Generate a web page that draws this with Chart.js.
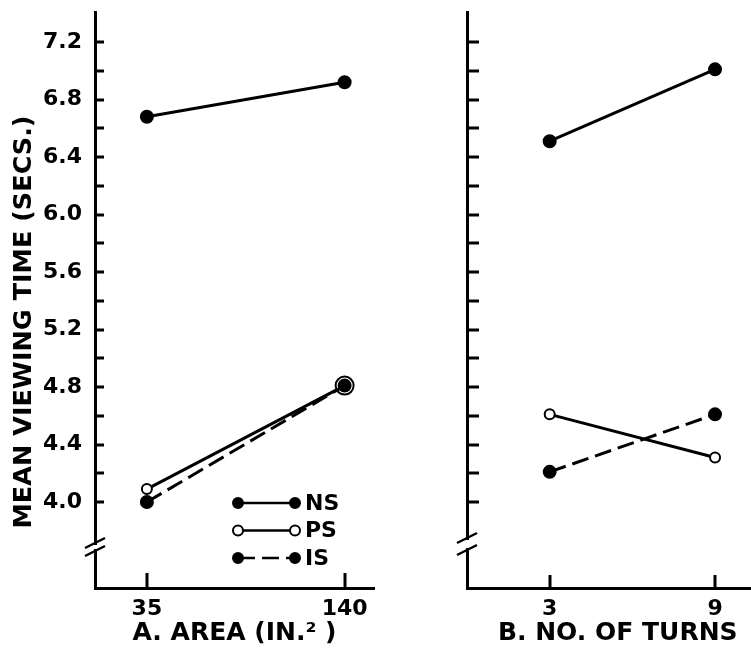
<!DOCTYPE html>
<html>
<head>
<meta charset="utf-8">
<script src="https://cdn.jsdelivr.net/npm/chart.js@4.4.1/dist/chart.umd.min.js"></script>
<style>
html, body { margin: 0; padding: 0; background: #fff; overflow: hidden; }
#wrap { position: relative; width: 751px; height: 648px; overflow: hidden; }
canvas { position: absolute; top: 0; }
#areaChart { left: 0; }
#turnsChart { left: 385px; }
</style>
</head>
<body>
<div id="wrap">
    <canvas id="areaChart" width="385" height="648"></canvas>
    <canvas id="turnsChart" width="392" height="648"></canvas>
</div>
<script>
// data
var seriesNames = ['NS', 'PS', 'IS'];

var areaValues = [35, 140];
var areaLabels = ['35', '140'];
var areaNS = [6.68, 6.92];
var areaPS = [4.09, 4.81];
var areaIS = [4.00, 4.81];

var turnValues = [3, 9];
var turnLabels = ['3', '9'];
var turnsNS = [6.51, 7.01];
var turnsPS = [4.61, 4.31];
var turnsIS = [4.21, 4.61];

var yMajorTicks = [4.0, 4.4, 4.8, 5.2, 5.6, 6.0, 6.4, 6.8, 7.2];
var yTickLabels = ['4.0', '4.4', '4.8', '5.2', '5.6', '6.0', '6.4', '6.8', '7.2'];
var yMinorTicks = [4.2, 4.6, 5.0, 5.4, 5.8, 6.2, 6.6, 7.0];

var yTitle = 'MEAN VIEWING TIME (SECS.)';
var areaTitle = 'A. AREA (IN.\u00B2 )';
var turnsTitle = 'B. NO. OF TURNS';

var FONT = "'DejaVu Sans', sans-serif";
Chart.defaults.font.family = FONT;
Chart.defaults.color = '#000';

// inward tick marks and the axis break
var axisDecor = {
    id: 'axisDecor',
    afterDraw: function(chart, args, opts) {
        var ctx = chart.ctx, x = chart.scales.x, y = chart.scales.y;
        var ax = y.right, ay = x.top;
        ctx.save();
        ctx.strokeStyle = '#000';
        ctx.lineWidth = 3;
        yMajorTicks.concat(yMinorTicks).forEach(function(v) {
            var py = Math.round(y.getPixelForValue(v));
            ctx.beginPath();
            ctx.moveTo(ax, py);
            ctx.lineTo(ax + opts.yTick, py);
            ctx.stroke();
        });
        opts.xValues.forEach(function(v) {
            var px = Math.round(x.getPixelForValue(v));
            ctx.beginPath();
            ctx.moveTo(px, ay);
            ctx.lineTo(px, ay - opts.xTick);
            ctx.stroke();
        });
        var by = opts.breakY, g = opts.breakGap;
        ctx.fillStyle = '#fff';
        ctx.fillRect(ax - 4, by - g + 2, 8, 2 * g - 4);
        ctx.lineWidth = 2.5;
        [-g, g].forEach(function(d) {
            ctx.beginPath();
            ctx.moveTo(ax - 10, by + d + 5);
            ctx.lineTo(ax + 10, by + d - 5);
            ctx.stroke();
        });
        ctx.restore();
    }
};

// legend with two markers per line, like the printed key
var lineLegend = {
    id: 'lineLegend',
    afterDraw: function(chart, args, opts) {
        if (!opts.show) return;
        var ctx = chart.ctx;
        chart.data.datasets.forEach(function(ds, i) {
            var yy = opts.y + i * opts.rowGap;
            ctx.save();
            ctx.strokeStyle = '#000';
            ctx.lineWidth = 2.5;
            ctx.setLineDash(ds.borderDash || []);
            ctx.beginPath();
            ctx.moveTo(opts.x1, yy);
            ctx.lineTo(opts.x2, yy);
            ctx.stroke();
            ctx.setLineDash([]);
            ctx.lineWidth = 2;
            [opts.x1, opts.x2].forEach(function(px) {
                ctx.beginPath();
                ctx.arc(px, yy, opts.r, 0, Math.PI * 2);
                ctx.fillStyle = ds.pointBackgroundColor;
                ctx.fill();
                ctx.stroke();
            });
            ctx.fillStyle = '#000';
            ctx.font = 'bold 22px ' + FONT;
            ctx.textBaseline = 'middle';
            ctx.fillText(ds.label, opts.x2 + 10, yy + 1);
            ctx.restore();
        });
    }
};

// rotated y title, placed where the figure has it
var sideTitle = {
    id: 'sideTitle',
    afterDraw: function(chart, args, opts) {
        if (!opts.text) return;
        var ctx = chart.ctx;
        ctx.save();
        ctx.translate(opts.x, opts.y);
        ctx.rotate(-Math.PI / 2);
        ctx.font = 'bold 25.5px ' + FONT;
        ctx.fillStyle = '#000';
        ctx.textAlign = 'center';
        ctx.textBaseline = 'middle';
        ctx.fillText(opts.text, 0, 0);
        ctx.restore();
    }
};

function makeDatasets(ns, ps, is, psRadius) {
    return [{
        label: seriesNames[0],
        data: ns,
        borderColor: '#000',
        borderWidth: 3,
        pointBackgroundColor: '#000',
        pointBorderColor: '#000',
        pointRadius: 5.5,
        order: 2
    }, {
        label: seriesNames[1],
        data: ps,
        borderColor: '#000',
        borderWidth: 3,
        pointBackgroundColor: '#fff',
        pointBorderColor: '#000',
        pointBorderWidth: 2,
        pointRadius: psRadius,
        order: 1
    }, {
        label: seriesNames[2],
        data: is,
        borderColor: '#000',
        borderWidth: 3,
        borderDash: [17, 7],
        pointBackgroundColor: '#000',
        pointBorderColor: '#000',
        pointRadius: 5.5,
        order: 0
    }];
}

function makeChart(id, opts) {
    var datasets = makeDatasets(opts.ns, opts.ps, opts.is, opts.psRadius);
    datasets.forEach(function(ds) {
        ds.data = ds.data.map(function(v, i) { return { x: opts.xValues[i], y: v }; });
    });
    return new Chart(document.getElementById(id), {
        type: 'line',
        data: { datasets: datasets },
        options: {
            responsive: false,
            animation: false,
            devicePixelRatio: 1,
            layout: { padding: { top: 12, right: opts.padRight, left: 0, bottom: 0 } },
            plugins: {
                legend: { display: false },
                tooltip: { enabled: false },
                axisDecor: { yTick: opts.yTick, xTick: opts.xTick, xValues: opts.xValues, breakY: opts.breakY, breakGap: opts.breakGap },
                lineLegend: { show: opts.legend, x1: 238, x2: 295, y: 503, rowGap: 27.5, r: 5 },
                sideTitle: { text: opts.yTitle, x: 24, y: 322 }
            },
            scales: {
                x: {
                    type: 'linear',
                    min: opts.xMin,
                    max: opts.xMax,
                    grid: { display: false },
                    border: { display: true, color: '#000', width: 3 },
                    afterBuildTicks: function(s) {
                        s.ticks = opts.xValues.map(function(v) { return { value: v }; });
                    },
                    afterFit: function(s) {
                        s.height = 60;
                        s.paddingLeft = 0;
                        s.paddingRight = 0;
                    },
                    ticks: {
                        autoSkip: false,
                        maxRotation: 0,
                        padding: 0,
                        font: { size: 22, weight: 'bold' },
                        callback: function(v, i) { return opts.xLabels[i]; }
                    },
                    title: {
                        display: true,
                        text: opts.xTitle,
                        font: { size: 25, weight: 'bold' },
                        padding: { top: 0, bottom: 0 }
                    }
                },
                y: {
                    type: 'linear',
                    min: 3.402,
                    max: 7.409,
                    grid: { display: false },
                    border: { display: true, color: '#000', width: 3 },
                    afterBuildTicks: function(s) {
                        s.ticks = yMajorTicks.map(function(v) { return { value: v }; });
                    },
                    afterFit: function(s) {
                        s.width = opts.yWidth;
                        s.paddingTop = 0;
                        s.paddingBottom = 0;
                    },
                    ticks: {
                        display: opts.yLabels,
                        padding: 5,
                        font: { size: 22, weight: 'bold' },
                        callback: function(v, i) { return yTickLabels[i]; }
                    }
                }
            }
        },
        plugins: [axisDecor, lineLegend, sideTitle]
    });
}

var areaChart = makeChart('areaChart', {
    ns: areaNS, ps: areaPS, is: areaIS, psRadius: [5, 9],
    xValues: areaValues, xLabels: areaLabels, xTitle: areaTitle,
    xMin: 7.45, xMax: 155.6, yWidth: 95, padRight: 5,
    yLabels: true, yTitle: yTitle, legend: true,
    yTick: 9, xTick: 15, breakY: 547, breakGap: 4
});

var turnsChart = makeChart('turnsChart', {
    ns: turnsNS, ps: turnsPS, is: turnsIS, psRadius: 5,
    xValues: turnValues, xLabels: turnLabels, xTitle: turnsTitle,
    xMin: 0, xMax: 10.94, yWidth: 82, padRight: 0,
    yLabels: false, yTitle: '', legend: false,
    yTick: 12, xTick: 13, breakY: 544, breakGap: 6
});
</script>
</body>
</html>
